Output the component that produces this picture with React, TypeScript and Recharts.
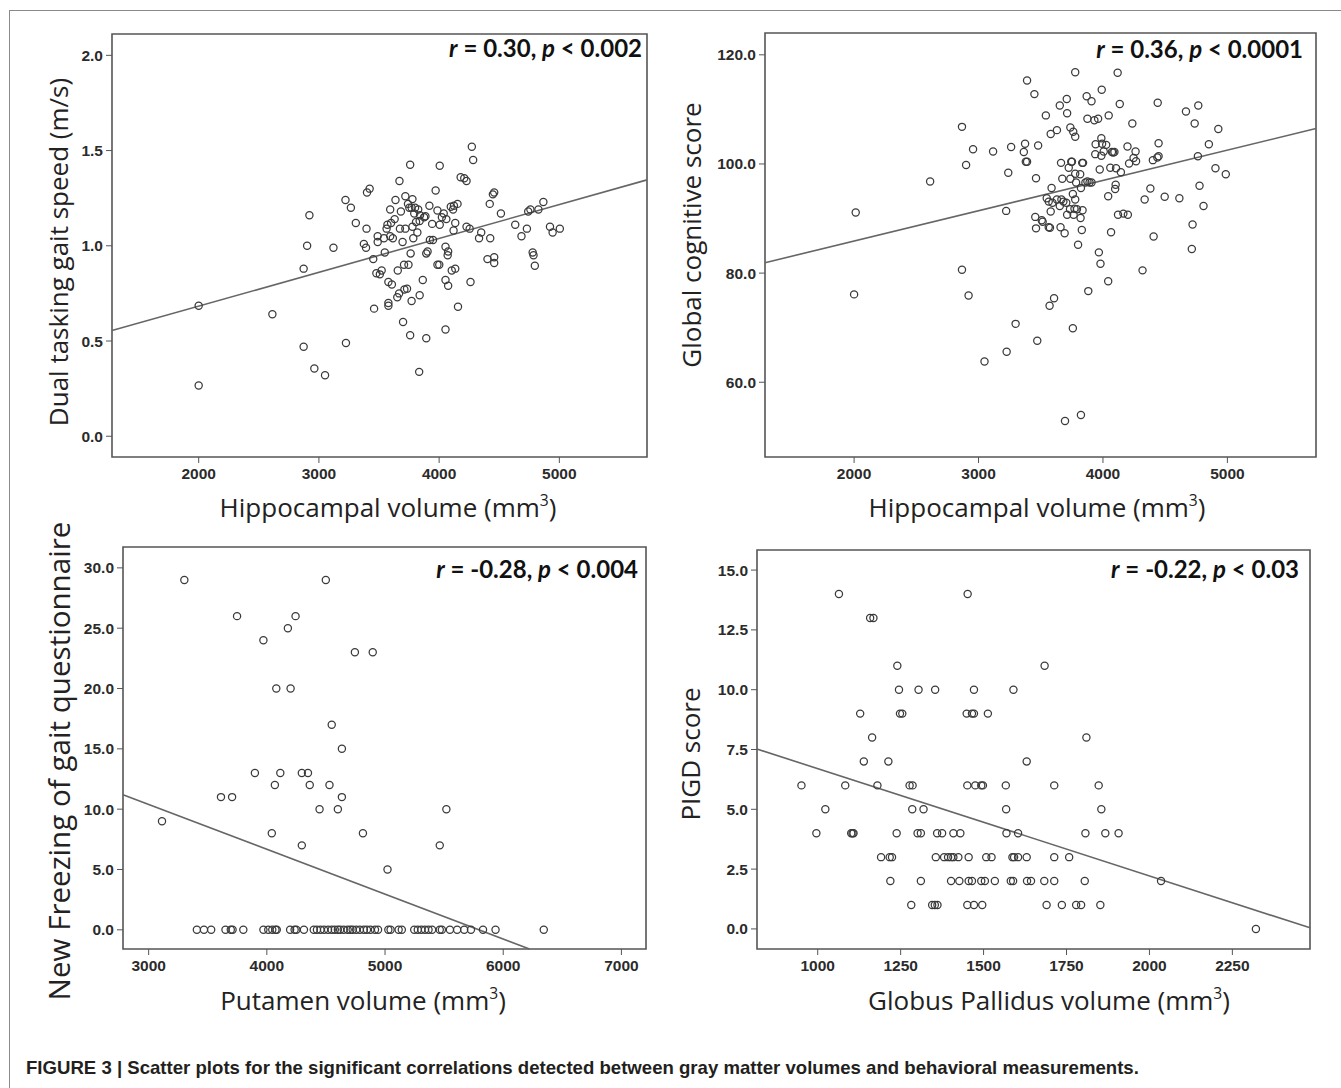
import React from "react";
import {
  ScatterChart,
  Scatter,
  XAxis,
  YAxis,
  ReferenceLine,
  ReferenceArea,
} from "recharts";

// panel A: hippocampal volume vs dual tasking gait speed
const hippoGait: [number, number][] = [
  [2000, 0.685], [2000, 0.266], [2613, 0.64], [2873, 0.47], [2873, 0.88], [2902, 1.0], [2921, 1.16],
  [2962, 0.356], [3051, 0.32], [3121, 0.99], [3225, 0.49], [3221, 1.24], [3266, 1.2], [3307, 1.12],
  [3374, 1.01], [3392, 0.99], [3396, 1.09], [3400, 1.28], [3422, 1.3], [3452, 0.93], [3459, 0.67],
  [3478, 0.856], [3489, 1.02], [3489, 1.05], [3507, 0.85], [3522, 0.87], [3541, 1.04], [3548, 0.965],
  [3563, 1.09], [3570, 1.11], [3578, 0.81], [3578, 0.7], [3578, 0.685], [3593, 1.19], [3593, 1.05],
  [3600, 1.12], [3607, 0.797], [3615, 1.04], [3630, 1.14], [3637, 1.24], [3652, 0.73], [3656, 0.87],
  [3667, 0.75], [3670, 1.34], [3674, 1.09], [3682, 1.18], [3696, 1.02], [3700, 0.6], [3708, 0.9],
  [3711, 0.77], [3719, 1.26], [3719, 1.09], [3733, 0.775], [3741, 1.22], [3745, 0.9], [3752, 1.2],
  [3759, 0.53], [3759, 1.425], [3763, 0.96], [3771, 0.71], [3771, 1.2], [3778, 1.245], [3778, 1.1],
  [3785, 1.04], [3793, 1.17], [3800, 1.2], [3808, 1.125], [3819, 1.07], [3826, 1.19], [3834, 0.338],
  [3838, 0.74], [3838, 1.13], [3841, 1.16], [3864, 0.82], [3875, 1.15], [3886, 1.155], [3893, 0.515],
  [3893, 0.96], [3904, 0.97], [3919, 1.21], [3923, 1.03], [3942, 1.115], [3949, 1.03], [3971, 1.29],
  [3986, 1.185], [3986, 0.9], [4001, 0.9], [4005, 1.11], [4005, 1.42], [4023, 1.15], [4038, 1.17],
  [4053, 0.82], [4053, 0.56], [4053, 0.995], [4060, 1.14], [4071, 0.95], [4075, 0.97], [4075, 0.79],
  [4097, 1.205], [4105, 0.87], [4116, 1.19], [4120, 1.08], [4123, 1.21], [4134, 0.88], [4134, 1.12],
  [4153, 1.22], [4157, 0.68], [4179, 1.36], [4209, 1.355], [4228, 1.34], [4228, 1.1], [4254, 1.09],
  [4261, 0.81], [4272, 1.52], [4283, 1.45], [4332, 1.04], [4350, 1.07], [4402, 0.93], [4421, 1.22],
  [4425, 1.04], [4447, 1.27], [4458, 1.28], [4458, 0.94], [4458, 0.91], [4514, 1.17], [4633, 1.11],
  [4685, 1.05], [4730, 1.09], [4741, 1.18], [4759, 1.19], [4778, 0.965], [4785, 0.95], [4796, 0.895],
  [4826, 1.19], [4867, 1.23], [4922, 1.1], [4944, 1.07], [5004, 1.09],
];

// panel B: hippocampal volume vs global cognitive score
const hippoCog: [number, number][] = [
  [2000, 76.1], [2013, 91.1], [2611, 96.8], [2867, 106.8], [2867, 80.6], [2900, 99.8], [2920, 75.9],
  [2956, 102.7], [3048, 63.8], [3117, 102.3], [3222, 91.4], [3226, 65.6], [3239, 98.4], [3262, 103.1],
  [3298, 70.7], [3364, 102.2], [3374, 103.7], [3380, 100.4], [3390, 100.4], [3390, 115.3], [3449, 112.8],
  [3456, 90.3], [3462, 97.4], [3462, 88.2], [3472, 67.6], [3479, 103.4], [3508, 89.7], [3515, 89.4],
  [3541, 108.9], [3548, 93.7], [3564, 88.4], [3564, 93.1], [3571, 74.0], [3574, 88.3], [3580, 105.5],
  [3580, 91.3], [3587, 95.6], [3594, 92.9], [3607, 75.4], [3630, 106.2], [3630, 93.5], [3653, 110.7],
  [3653, 92.3], [3659, 88.4], [3663, 100.2], [3666, 93.5], [3673, 97.3], [3682, 93.1], [3692, 87.3],
  [3695, 52.9], [3705, 92.9], [3709, 111.9], [3712, 109.3], [3712, 90.7], [3725, 99.3], [3735, 91.7],
  [3738, 106.7], [3738, 97.3], [3745, 100.4], [3751, 100.4], [3758, 69.9], [3758, 94.5], [3761, 105.9],
  [3764, 90.7], [3771, 91.8], [3777, 116.8], [3777, 93.5], [3777, 105.0], [3777, 98.2], [3784, 96.6],
  [3791, 91.7], [3800, 85.2], [3817, 98.1], [3820, 90.1], [3823, 54.0], [3823, 95.6], [3830, 87.9],
  [3833, 100.2], [3836, 91.5], [3840, 100.2], [3859, 96.6], [3869, 112.4], [3875, 108.3], [3875, 96.8],
  [3882, 76.7], [3892, 96.6], [3908, 111.5], [3908, 96.6], [3931, 108.0], [3938, 101.8], [3941, 103.6],
  [3961, 108.3], [3967, 83.8], [3974, 99.0], [3980, 81.7], [3987, 104.7], [3987, 101.5], [3990, 113.6],
  [3993, 103.7], [4006, 102.3], [4026, 103.5], [4042, 78.5], [4042, 94.1], [4046, 108.9], [4059, 99.3],
  [4065, 87.5], [4072, 102.2], [4082, 102.1], [4092, 102.2], [4098, 95.4], [4102, 96.2], [4105, 99.2],
  [4118, 116.7], [4121, 90.7], [4135, 111.0], [4144, 98.5], [4164, 90.9], [4197, 103.2], [4200, 90.7],
  [4210, 100.1], [4236, 107.4], [4246, 101.1], [4262, 102.3], [4266, 100.5], [4318, 80.5], [4335, 93.5],
  [4381, 95.5], [4401, 100.7], [4407, 86.7], [4437, 101.2], [4440, 111.2], [4447, 103.8], [4447, 101.4],
  [4496, 94.0], [4614, 93.7], [4667, 109.6], [4714, 84.4], [4720, 88.9], [4737, 107.4], [4763, 101.4],
  [4766, 110.7], [4776, 96.0], [4808, 92.3], [4851, 103.6], [4904, 99.2], [4927, 106.4], [4987, 98.1],
];

// panel C: putamen volume vs new freezing of gait questionnaire
const putamenFog: [number, number][] = [
  [3302, 29], [3113, 9], [3612, 11], [3706, 11], [3748, 26], [3899, 13], [3971, 24], [4042, 8],
  [4068, 12], [4080, 20], [4114, 13], [4178, 25], [4201, 20], [4243, 26], [4296, 13], [4296, 7],
  [4348, 13], [4363, 12], [4446, 10], [4499, 29], [4530, 12], [4549, 17], [4601, 10], [4635, 15],
  [4635, 11], [4745, 23], [4813, 8], [4896, 23], [5021, 5], [5463, 7], [5519, 10],
  [3408, 0], [3468, 0], [3529, 0], [3650, 0], [3695, 0], [3710, 0], [3801, 0], [3971, 0], [4012, 0],
  [4046, 0], [4073, 0], [4084, 0], [4197, 0], [4235, 0], [4250, 0], [4314, 0], [4397, 0], [4424, 0],
  [4454, 0], [4484, 0], [4518, 0], [4549, 0], [4575, 0], [4601, 0], [4620, 0], [4650, 0], [4684, 0],
  [4707, 0], [4726, 0], [4756, 0], [4787, 0], [4821, 0], [4847, 0], [4877, 0], [4915, 0], [4941, 0],
  [5028, 0], [5047, 0], [5115, 0], [5142, 0], [5247, 0], [5277, 0], [5307, 0], [5338, 0], [5368, 0],
  [5398, 0], [5463, 0], [5481, 0], [5549, 0], [5610, 0], [5670, 0], [5727, 0], [5829, 0], [5935, 0],
  [6343, 0],
];

// panel D: globus pallidus volume vs PIGD score
const pallidusPigd: [number, number][] = [
  [1064, 14], [1452, 14], [1158, 13], [1168, 13], [1240, 11], [1684, 11],
  [1245, 10], [1304, 10], [1354, 10], [1471, 10], [1590, 10],
  [1128, 9], [1248, 9], [1255, 9], [1449, 9], [1465, 9], [1471, 9], [1513, 9],
  [1164, 8], [1810, 8], [1139, 7], [1213, 7], [1630, 7],
  [951, 6], [1083, 6], [1180, 6], [1277, 6], [1286, 6], [1451, 6], [1475, 6], [1493, 6], [1498, 6],
  [1567, 6], [1713, 6], [1847, 6],
  [1023, 5], [1285, 5], [1319, 5], [1568, 5], [1855, 5],
  [996, 4], [1101, 4], [1105, 4], [1108, 4], [1238, 4], [1301, 4], [1311, 4], [1360, 4], [1375, 4],
  [1409, 4], [1430, 4], [1569, 4], [1604, 4], [1807, 4], [1867, 4], [1907, 4],
  [1191, 3], [1217, 3], [1224, 3], [1356, 3], [1381, 3], [1393, 3], [1402, 3], [1409, 3], [1424, 3],
  [1455, 3], [1508, 3], [1524, 3], [1587, 3], [1592, 3], [1604, 3], [1630, 3], [1713, 3], [1758, 3],
  [1219, 2], [1311, 2], [1402, 2], [1427, 2], [1455, 2], [1465, 2], [1493, 2], [1504, 2], [1534, 2],
  [1582, 2], [1589, 2], [1631, 2], [1643, 2], [1683, 2], [1713, 2], [1805, 2], [2035, 2],
  [1282, 1], [1345, 1], [1353, 1], [1361, 1], [1451, 1], [1471, 1], [1496, 1], [1690, 1], [1736, 1],
  [1779, 1], [1794, 1], [1852, 1],
  [2321, 0],
];

// fit lines: [x0, y0, x1, y1]
const fitA = [1279, 0.555, 5729, 1.346];
const fitB = [1284, 81.9, 5712, 106.5];
const fitC = [2783, 11.2, 6222, -1.59];
const fitD = [817, 7.52, 2484, 0.045];

const ticksAX = [2000, 3000, 4000, 5000];
const ticksAY = [0, 0.5, 1, 1.5, 2];
const ticksBY = [60, 80, 100, 120];
const ticksCX = [3000, 4000, 5000, 6000, 7000];
const ticksCY = [0, 5, 10, 15, 20, 25, 30];
const ticksDX = [1000, 1250, 1500, 1750, 2000, 2250];
const ticksDY = [0, 2.5, 5, 7.5, 10, 12.5, 15];

const tickFont = {
  fontSize: 15.5,
  fontFamily: "'Liberation Sans', Arial, sans-serif",
  fontWeight: 700,
  fill: "#2b2b2b",
};

const Ring = (props: any) => (
  <circle cx={props.cx} cy={props.cy} r={3.6} fill="none" stroke="#3a3a3a" strokeWidth={1.25} />
);

interface PanelProps {
  left: number;
  top: number;
  width: number;
  height: number;
  yWidth: number;
  points: [number, number][];
  xDomain: [number, number];
  yDomain: [number, number];
  xTicks: number[];
  yTicks: number[];
  fit: number[];
}

const Panel: React.FC<PanelProps> = ({
  left, top, width, height, yWidth, points, xDomain, yDomain, xTicks, yTicks, fit,
}) => {
  const data = points.map(([x, y]) => ({ x, y }));
  return (
    <div style={{ position: "absolute", left, top }}>
      <ScatterChart width={width} height={height} margin={{ top: 10, right: 5, bottom: 0, left: 0 }}>
        <XAxis
          type="number"
          dataKey="x"
          domain={xDomain}
          ticks={xTicks}
          allowDataOverflow
          height={30}
          axisLine={false}
          tickSize={6}
          tickMargin={5}
          tickLine={{ stroke: "#555" }}
          tick={tickFont}
        />
        <YAxis
          type="number"
          dataKey="y"
          domain={yDomain}
          ticks={yTicks}
          allowDataOverflow
          width={yWidth}
          axisLine={false}
          tickSize={6}
          tickMargin={3}
          tickLine={{ stroke: "#555" }}
          tick={tickFont}
          tickFormatter={(v: number) => v.toFixed(1)}
        />
        <ReferenceArea
          x1={xDomain[0]}
          x2={xDomain[1]}
          y1={yDomain[0]}
          y2={yDomain[1]}
          fill="none"
          stroke="#555"
          strokeWidth={1.6}
          fillOpacity={0}
          ifOverflow="visible"
        />
        <Scatter data={data} shape={Ring} isAnimationActive={false} />
        <ReferenceLine
          segment={[{ x: fit[0], y: fit[1] }, { x: fit[2], y: fit[3] }]}
          stroke="#666"
          strokeWidth={1.6}
          ifOverflow="visible"
        />
      </ScatterChart>
    </div>
  );
};

const titleFont = "'Open Sans', 'DejaVu Sans', sans-serif";

const XTitle: React.FC<{ cx: number; cy: number; text: string; size?: number }> = ({ cx, cy, text, size = 26 }) => (
  <div
    style={{
      position: "absolute", left: cx, top: cy, transform: "translate(-50%, -50%)",
      whiteSpace: "nowrap", fontFamily: titleFont, fontSize: size, color: "#222", lineHeight: 1,
    }}
  >
    {text} (mm<sup style={{ fontSize: "0.6em", verticalAlign: "0.7em", lineHeight: 0 }}>3</sup>)
  </div>
);

const YTitle: React.FC<{ cx: number; cy: number; text: string; size?: number }> = ({ cx, cy, text, size = 26 }) => (
  <div
    style={{
      position: "absolute", left: cx, top: cy, transform: "translate(-50%, -50%) rotate(-90deg)",
      whiteSpace: "nowrap", fontFamily: titleFont, fontSize: size, color: "#222", lineHeight: 1,
    }}
  >
    {text}
  </div>
);

const Stat: React.FC<{ right: number; cy: number; r: string; p: string }> = ({ right, cy, r, p }) => (
  <div
    style={{
      position: "absolute", right: 1341 - right, top: cy, transform: "translateY(-50%)",
      whiteSpace: "nowrap", fontFamily: "Lato, 'Open Sans', sans-serif", fontWeight: 700,
      fontSize: 24, color: "#111", lineHeight: 1,
    }}
  >
    <i>r</i> = {r}, <i>p</i> &lt; {p}
  </div>
);

const App: React.FC = () => {
  return (
    <div style={{ position: "absolute", left: 0, top: 0, width: 1341, height: 1088, background: "#fff", overflow: "hidden" }}>
      <div style={{ position: "absolute", left: 9, top: 10, width: 1340, height: 1100, borderTop: "1px solid #8a8a8a", borderLeft: "1px solid #8a8a8a" }} />

      <Panel left={50} top={24} width={602} height={463} yWidth={62} points={hippoGait}
        xDomain={[1279, 5729]} yDomain={[-0.109, 2.112]} xTicks={ticksAX} yTicks={ticksAY} fit={fitA} />
      <Panel left={690} top={23} width={631} height={464} yWidth={75} points={hippoCog}
        xDomain={[1284, 5712]} yDomain={[46.3, 124.0]} xTicks={ticksAX} yTicks={ticksBY} fit={fitB} />
      <Panel left={63} top={537} width={588} height={442} yWidth={60} points={putamenFog}
        xDomain={[2783, 7208]} yDomain={[-1.59, 31.73]} xTicks={ticksCX} yTicks={ticksCY} fit={fitC} />
      <Panel left={697} top={540} width={618} height={439} yWidth={60} points={pallidusPigd}
        xDomain={[817, 2484]} yDomain={[-0.84, 15.84]} xTicks={ticksDX} yTicks={ticksDY} fit={fitD} />

      <Stat right={642} cy={48} r="0.30" p="0.002" />
      <Stat right={1303} cy={49} r="0.36" p="0.0001" />
      <Stat right={638} cy={569} r="-0.28" p="0.004" />
      <Stat right={1299} cy={569} r="-0.22" p="0.03" />

      <YTitle cx={58} cy={252} text="Dual tasking gait speed (m/s)" />
      <YTitle cx={691} cy={235} text="Global cognitive score" />
      <YTitle cx={59} cy={761} text="New Freezing of gait questionnaire" size={29.6} />
      <YTitle cx={690} cy={754} text="PIGD score" />

      <XTitle cx={388} cy={507} text="Hippocampal volume" />
      <XTitle cx={1037} cy={507} text="Hippocampal volume" />
      <XTitle cx={363} cy={1000} text="Putamen volume" />
      <XTitle cx={1049} cy={1000} text="Globus Pallidus volume" />

      <div
        style={{
          position: "absolute", left: 26, top: 1068, transform: "translateY(-50%)", whiteSpace: "nowrap",
          fontFamily: "'Liberation Sans', Arial, sans-serif", fontWeight: 700, fontSize: 18.6, color: "#231f20",
        }}
      >
        FIGURE 3 | Scatter plots for the significant correlations detected between gray matter volumes and behavioral measurements.
      </div>
    </div>
  );
};

export default App;
